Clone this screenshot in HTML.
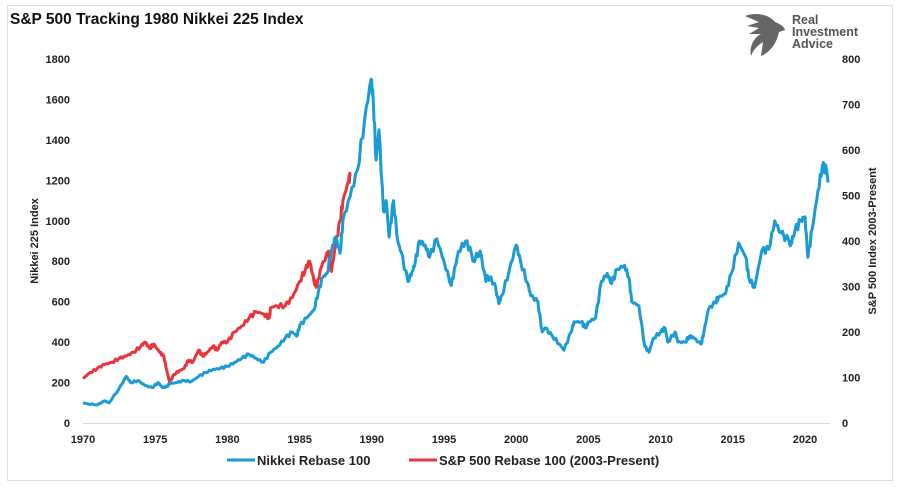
<!DOCTYPE html>
<html><head><meta charset="utf-8"><style>
body{margin:0;background:#fff;width:900px;height:486px;overflow:hidden;font-family:"Liberation Sans",Arial,sans-serif}
</style></head><body>
<svg width="900" height="486" xmlns="http://www.w3.org/2000/svg" font-family="Liberation Sans, Arial, sans-serif">
<rect x="7.5" y="5.5" width="885" height="475" fill="none" stroke="#e0e0e0"/>
<text x="10" y="24" font-size="15.5" font-weight="bold" fill="#111">S&amp;P 500 Tracking 1980 Nikkei 225 Index</text>
<g transform="translate(745,12)">
<path d="M0,4 C10,0 24,2 30,10 C36,12 40,16 40,18 L34,20 C32,30 26,40 16,44 L18,30 C12,34 8,38 6,44 C4,36 8,26 16,22 L4,22 L14,16 L2,14 L14,10 Z" fill="#666"/>
</g>
<text x="792" y="24" font-size="12.5" font-weight="bold" fill="#555">Real</text>
<text x="792" y="36" font-size="12.5" font-weight="bold" fill="#555">Investment</text>
<text x="792" y="48" font-size="12.5" font-weight="bold" fill="#555">Advice</text>
<line x1="83" y1="423.5" x2="830" y2="423.5" stroke="#d9d9d9"/>
<g font-size="11" font-weight="bold" fill="#222" text-anchor="end" id="ly"></g>
<g font-size="11" font-weight="bold" fill="#222" text-anchor="start" id="ry"></g>
<g font-size="11" font-weight="bold" fill="#222" text-anchor="middle" id="xt"></g>
<text transform="translate(38,241) rotate(-90)" font-size="11" font-weight="bold" text-anchor="middle" fill="#222">Nikkei 225 Index</text>
<text transform="translate(876,241) rotate(-90)" font-size="11" font-weight="bold" text-anchor="middle" fill="#222">S&amp;P 500 Index 2003-Present</text>
<path id="red" fill="none" stroke="#e8343a" stroke-width="3" stroke-linejoin="round"/>
<path id="blue" fill="none" stroke="#1a9ad6" stroke-width="3" stroke-linejoin="round"/>
<line x1="227" y1="460" x2="255" y2="460" stroke="#1a9ad6" stroke-width="3"/>
<text x="257" y="465" font-size="13" font-weight="bold" fill="#222">Nikkei Rebase 100</text>
<line x1="409" y1="460" x2="437" y2="460" stroke="#e8343a" stroke-width="3"/>
<text x="439" y="465" font-size="13" font-weight="bold" fill="#222">S&amp;P 500 Rebase 100 (2003-Present)</text>
</svg>
<script>
const X=y=>83+(y-1970)*14.44, Y=v=>423-v*0.2022;
const ns="http://www.w3.org/2000/svg";
function t(g,x,y,s){const e=document.createElementNS(ns,"text");e.setAttribute("x",x);e.setAttribute("y",y);e.textContent=s;document.getElementById(g).appendChild(e);}
for(let v=0;v<=1800;v+=200)t("ly",70,Y(v)+4,v);
for(let v=0;v<=800;v+=100)t("ry",842,Y(v*2.25)+4,v);
for(let y=1970;y<=2020;y+=5)t("xt",X(y),443,y);
const b=[1970,100,1970.3,95,1971,90,1971.5,110,1971.8,100,1972.5,170,1973,230,1973.3,200,1973.8,210,1974.3,185,1974.8,175,1975.2,200,1975.5,175,1975.8,180,1976,195,1976.5,200,1977,210,1977.5,205,1978,230,1978.5,250,1979,265,1979.5,270,1980,280,1980.5,300,1981,320,1981.5,340,1982,320,1982.5,300,1983,350,1983.5,380,1984,420,1984.5,450,1984.8,430,1985,480,1985.5,520,1986,560,1986.3,650,1986.6,720,1986.9,740,1987.2,850,1987.5,920,1987.8,840,1988,1000,1988.5,1120,1989,1250,1989.5,1500,1989.95,1700,1990.1,1600,1990.3,1300,1990.5,1450,1990.8,1050,1991,1100,1991.2,920,1991.5,1100,1991.8,900,1992,850,1992.5,700,1992.8,750,1993,790,1993.3,900,1993.7,880,1994,820,1994.5,910,1995,800,1995.5,680,1995.8,780,1996,850,1996.5,900,1996.9,840,1997,800,1997.5,850,1997.9,700,1998,730,1998.5,690,1998.8,590,1999,630,1999.5,750,2000,880,2000.3,800,2000.8,690,2001,630,2001.5,600,2001.8,450,2002,470,2002.5,430,2003,390,2003.3,360,2003.8,450,2004,500,2004.5,500,2004.8,470,2005,500,2005.5,520,2005.9,700,2006.3,740,2006.6,690,2007,760,2007.5,780,2007.8,720,2008,600,2008.5,580,2008.9,380,2009.2,350,2009.5,420,2010,450,2010.3,470,2010.5,400,2011,450,2011.2,400,2011.7,400,2012,430,2012.3,420,2012.8,390,2013,450,2013.3,560,2013.8,600,2014,620,2014.5,640,2014.9,740,2015.4,890,2015.9,820,2016.1,720,2016.5,670,2017,850,2017.5,860,2017.9,1000,2018.3,940,2018.9,900,2019,880,2019.3,950,2019.7,1000,2020,1020,2020.2,820,2020.5,960,2020.9,1150,2021.2,1270,2021.5,1250,2021.6,1190];
const r=[1970,220,1970.5,250,1971,270,1971.5,290,1972,300,1972.5,320,1973,330,1973.5,350,1974,380,1974.3,400,1974.6,370,1974.9,390,1975.3,350,1975.6,330,1975.8,260,1976,200,1976.3,240,1976.7,260,1977,270,1977.3,310,1977.6,300,1978,360,1978.3,330,1978.6,350,1979,380,1979.3,360,1979.6,400,1980,400,1980.5,450,1981,480,1981.5,520,1982,550,1982.5,540,1982.9,520,1983,570,1983.4,580,1984,580,1984.5,620,1985,700,1985.4,760,1985.7,800,1986,700,1986.2,680,1986.5,770,1987,850,1987.2,750,1987.5,880,1987.8,1000,1988,1100,1988.4,1200,1988.5,1220];
function p(a){let s="";for(let i=0;i<a.length;i+=2){const n=i+2<a.length?4:1;for(let k=0;k<n;k++){const f=k/n;let yr=a[i],v=a[i+1];if(i+2<a.length){yr+=f*(a[i+2]-a[i]);v+=f*(a[i+3]-a[i+1]);}if(k>0)v+=Math.sin(i*7.3+k*3.1)*v*0.02;s+=(s?"L":"M")+X(yr).toFixed(1)+","+Y(v).toFixed(1);}}return s;}
document.getElementById("blue").setAttribute("d",p(b));
document.getElementById("red").setAttribute("d",p(r));
</script>
</body></html>
